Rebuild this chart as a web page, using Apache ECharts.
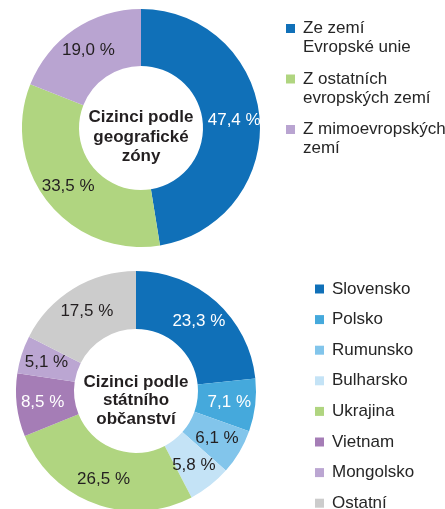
<!DOCTYPE html>
<html><head><meta charset="utf-8">
<script src="https://cdn.jsdelivr.net/npm/echarts@6/dist/echarts.min.js"></script>
<style>html,body{margin:0;padding:0;background:#fff}#c{width:445px;height:509px}</style>
</head><body><div id="c"></div>
<script>
const zoneNames = ['Ze zemí Evropské unie', 'Z ostatních evropských zemí', 'Z mimoevropských zemí'];
const zoneLegend = ['Ze zemí\nEvropské unie', 'Z ostatních\nevropských zemí', 'Z mimoevropských\nzemí'];
const zoneValues = [47.4, 33.5, 19.0];
const zoneColors = ['#1070b8', '#b0d580', '#b9a4d1'];
const zoneLabelColors = ['#ffffff', '#231f20', '#231f20'];

const countryNames = ['Slovensko', 'Polsko', 'Rumunsko', 'Bulharsko', 'Ukrajina', 'Vietnam', 'Mongolsko', 'Ostatní'];
const countryValues = [23.3, 7.1, 6.1, 5.8, 26.5, 8.5, 5.1, 17.5];
const countryColors = ['#1070b8', '#45a9dc', '#82c5eb', '#c4e3f6', '#b0d580', '#a57db6', '#bba6d2', '#cccccc'];
const countryLabelColors = ['#ffffff', '#ffffff', '#231f20', '#231f20', '#231f20', '#ffffff', '#231f20', '#231f20'];

const FONT = 'Liberation Sans';
const TXT = '#262626';
const fmt = p => p.value.toFixed(1).replace('.', ',') + ' %';

function mkData(names, values, colors, lcolors) {
  return names.map((n, i) => ({
    name: n, value: values[i],
    itemStyle: { color: colors[i] },
    label: { color: lcolors[i] }
  }));
}

const chart = echarts.init(document.getElementById('c'));
chart.setOption({
  animation: false,
  legend: [
    {
      data: zoneNames, orient: 'vertical', left: 281, top: -4, height: 300,
      icon: 'rect', itemWidth: 9, itemHeight: 9, itemGap: -4.5,
      formatter: n => '{t|' + zoneLegend[zoneNames.indexOf(n)] + '}',
      textStyle: {
        rich: { t: { fontFamily: FONT, fontSize: 17, color: TXT, lineHeight: 19, padding: [19, 0, 0, 3] } }
      }
    },
    {
      data: countryNames, orient: 'vertical', left: 310, top: 275.5, height: 400,
      icon: 'rect', itemWidth: 9, itemHeight: 9, itemGap: 13.6,
      textStyle: { fontFamily: FONT, fontSize: 17, color: TXT, lineHeight: 17, padding: [0, 0, 0, 3] }
    }
  ],
  series: [
    {
      type: 'pie', center: [141, 128], radius: [62, 119],
      startAngle: 90, clockwise: true, silent: true,
      label: { position: 'inside', formatter: fmt, fontFamily: FONT, fontSize: 17 },
      labelLine: { show: false },
      data: mkData(zoneNames, zoneValues, zoneColors, zoneLabelColors)
    },
    {
      type: 'pie', center: [136, 391], radius: [62, 120],
      startAngle: 90, clockwise: true, silent: true,
      label: { position: 'inside', formatter: fmt, fontFamily: FONT, fontSize: 17 },
      labelLine: { show: false },
      data: mkData(countryNames, countryValues, countryColors, countryLabelColors)
    }
  ],
  graphic: [
    { type: 'text', x: 141, y: 137, style: { text: 'Cizinci podle\ngeografické\nzóny', font: 'bold 17px "Liberation Sans"', fill: '#231f20', align: 'center', verticalAlign: 'middle', lineHeight: 19.5 } },
    { type: 'text', x: 136, y: 400.5, style: { text: 'Cizinci podle\nstátního\nobčanství', font: 'bold 17px "Liberation Sans"', fill: '#231f20', align: 'center', verticalAlign: 'middle', lineHeight: 18.5 } }
  ]
});
</script></body></html>
